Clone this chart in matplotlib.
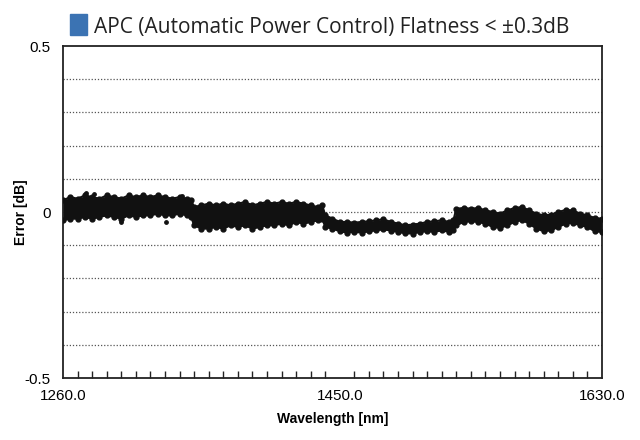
import matplotlib
matplotlib.use("Agg")
import matplotlib.pyplot as plt
from matplotlib.patches import Rectangle

# wavelength grid [nm], four plateaus of the APC flatness trace
wavelength = (list(range(1260, 1350, 5)) + [1348]
              + list(range(1350, 1440, 5)) + [1438]
              + list(range(1440, 1530, 5)) + [1528]
              + list(range(1530, 1631, 5)))

# upper / lower edge of the scattered measurement band [dB]
err_upper = [0.035, 0.045, 0.04, 0.05, 0.045, 0.04, 0.05, 0.045, 0.04, 0.05,
             0.045, 0.05, 0.045, 0.05, 0.045, 0.04, 0.045, 0.04, 0.035,
             0.015, 0.02, 0.025, 0.02, 0.025, 0.02, 0.025, 0.03, 0.02, 0.025,
             0.03, 0.025, 0.03, 0.025, 0.03, 0.025, 0.02, 0.015, 0.02,
             -0.01, -0.02, -0.03, -0.03, -0.032, -0.03, -0.028, -0.025, -0.022, -0.03,
             -0.035, -0.04, -0.038, -0.035, -0.03, -0.028, -0.025, -0.03, -0.025,
             0.01, 0.012, 0.01, 0.012, 0.005, 0.0, -0.005, 0.005, 0.012, 0.015,
             0.005, -0.005, -0.01, -0.008, 0.0, 0.006, 0.005, -0.005, -0.01, -0.018, -0.02]
err_lower = [-0.025, -0.02, -0.02, -0.015, -0.02, -0.015, -0.01, -0.015, -0.02, -0.01,
             -0.015, -0.01, -0.01, -0.005, -0.01, -0.01, -0.005, -0.01, -0.015,
             -0.04, -0.05, -0.05, -0.045, -0.05, -0.04, -0.045, -0.04, -0.05, -0.045,
             -0.04, -0.04, -0.035, -0.04, -0.03, -0.035, -0.03, -0.025, -0.02,
             -0.045, -0.05, -0.058, -0.062, -0.06, -0.062, -0.058, -0.055, -0.052, -0.056,
             -0.06, -0.064, -0.065, -0.06, -0.058, -0.06, -0.055, -0.06, -0.055,
             -0.04, -0.03, -0.028, -0.03, -0.035, -0.045, -0.048, -0.04, -0.03, -0.024,
             -0.035, -0.05, -0.058, -0.055, -0.045, -0.035, -0.033, -0.04, -0.045, -0.058, -0.06]

# stray points outside the band
outlier_wl = [1276, 1281, 1300, 1325, 1331, 1342]
outlier_err = [0.058, 0.055, -0.03, 0.052, -0.03, 0.048]

xticks = [1260, 1450, 1630]
yticks = [-0.5, 0, 0.5]
grid_levels = [-0.4, -0.3, -0.2, -0.1, 0.0, 0.1, 0.2, 0.3, 0.4]

fig = plt.figure(figsize=(6.4, 4.4), dpi=100)
ax = fig.add_axes([63 / 640, 1 - 378 / 440, 539 / 640, 332 / 440])

for g in grid_levels:
    ax.axhline(g, color="#555555", lw=0.9, ls=(0, (1, 1.5)), zorder=1)

ink = "#111111"
ax.fill_between(wavelength, err_lower, err_upper, color=ink, lw=0, zorder=3)
for edge in (err_upper, err_lower):
    ax.plot(wavelength, edge, color=ink, lw=1.5, marker="o", ms=3.5,
            solid_joinstyle="round", zorder=3)
ax.scatter(outlier_wl, outlier_err, s=6, color=ink, zorder=3)

ax.set_xlim(1260, 1630)
ax.set_ylim(-0.5, 0.5)
ax.set_xticks(xticks)
ax.set_xticklabels([f"{v:.1f}" for v in xticks])
ax.set_xticks(list(range(1270, 1630, 10)), minor=True)
ax.set_yticks(yticks)
ax.set_yticklabels(["-0.5", "0", "0.5"])
ax.tick_params(axis="x", which="major", length=0, pad=8, labelsize=11)
ax.tick_params(axis="x", which="minor", direction="in", length=5, width=1, color="#222222")
ax.tick_params(axis="y", length=0, pad=9, labelsize=11)
for lab in ax.get_xticklabels() + ax.get_yticklabels():
    lab.set_family("Liberation Sans")
for sp in ax.spines.values():
    sp.set_linewidth(1.3)
    sp.set_color("#222222")

ax.set_xlabel("Wavelength [nm]", fontsize=10, fontweight="bold", family="Liberation Sans")
ax.set_ylabel("Error [dB]", fontsize=10, fontweight="bold", family="Liberation Sans")
ax.xaxis.set_label_coords(0.5, -0.102)
ax.yaxis.set_label_coords(-0.065, 0.5)

fig.patches.append(Rectangle((70 / 640, 1 - 35 / 440), 17 / 640, 21 / 440,
                             transform=fig.transFigure, color="#3b73b3"))
fig.text(94 / 640, 1 - 33 / 440, "APC (Automatic Power Control) Flatness < \u00b10.3dB",
         fontsize=15, family="Open Sans", va="baseline", color="#222222")

fig.savefig("out.png", dpi=100)
